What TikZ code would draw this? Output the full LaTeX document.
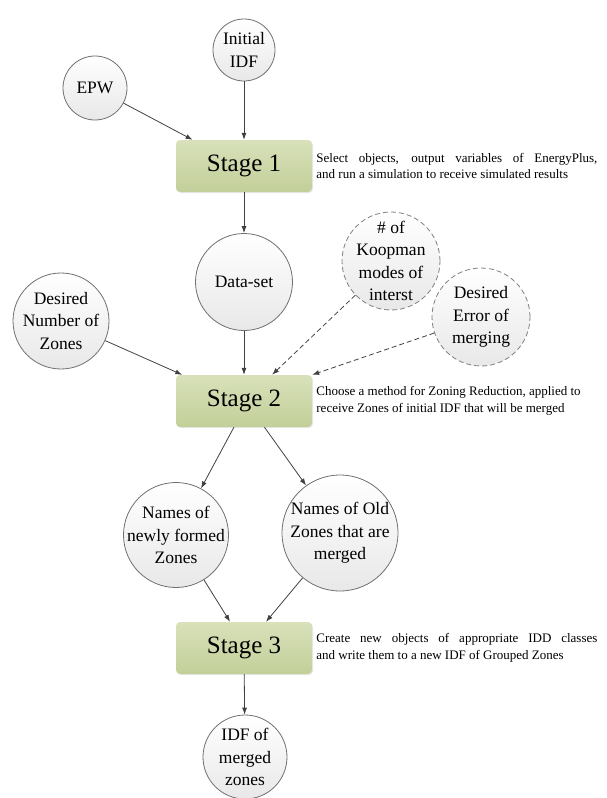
\documentclass[tikz,border=0pt]{standalone}
\usepackage{fontspec}
\setmainfont{Liberation Serif}
\usetikzlibrary{positioning,arrows.meta,shadows}
\definecolor{stagetop}{HTML}{D8E1BA}
\definecolor{stagebot}{HTML}{C3CF99}
\definecolor{ringgray}{HTML}{6F6F6F}
\definecolor{arrowgray}{HTML}{404040}

\begin{document}
\begin{tikzpicture}[x=1pt,y=-1pt,
    >={Latex[length=7pt,width=5pt]},
    bubble/.style={draw=ringgray,circle,line width=0.8pt,top color=white,bottom color=black!9,
      inner sep=-12pt,align=center,font=\fontsize{17.5}{22.5}\selectfont},
    dashbubble/.style={bubble,draw=black!50,dash pattern=on 5pt off 3pt},
    stagebox/.style={rectangle,rounded corners=4pt,top color=stagetop,bottom color=stagebot,
      minimum width=136pt,minimum height=52pt,font=\fontsize{25}{30}\selectfont,
      drop shadow={opacity=0.18,shadow xshift=1pt,shadow yshift=-1pt}},
    note/.style={align=left,inner sep=0,font=\fontsize{13}{16.5}\selectfont},
    flow/.style={->,draw=arrowgray,line width=0.8pt},
    dflow/.style={flow,dash pattern=on 5pt off 3pt}]
    \useasboundingbox (0,0) rectangle (606,798);

    \node[bubble,minimum size=62pt](ini) at (244, 50) {Initial\\IDF};
    \node[bubble,minimum size=64pt](epw) at (95, 88) {EPW};
    \node[stagebox](s1) at (244, 166) {Stage 1};
    \node[note,right=4pt of s1](n1) {\makebox[281pt][s]{Select objects, output variables of EnergyPlus,}\\and run a simulation to receive simulated results};

    \node[bubble,minimum size=97pt](ds) at (244, 282) {Data-set};
    \node[bubble,minimum size=96pt](dnz) at (61, 321) {Desired\\Number of\\Zones};
    \node[dashbubble,minimum size=98pt](koop) at (391, 261) {\# of\\Koopman\\modes of\\interst};
    \node[dashbubble,minimum size=98pt](derr) at (481, 317) {Desired\\Error of\\merging};
    \node[stagebox](s2) at (244, 401) {Stage 2};
    \node[note,right=4pt of s2](n2) {Choose a method for Zoning Reduction, applied to\\receive Zones of initial IDF that will be merged};

    \node[bubble,minimum size=105pt](nf) at (176, 535) {Names of\\newly formed\\Zones};
    \node[bubble,minimum size=116pt](no) at (340, 533) {Names of Old\\Zones that are\\merged};
    \node[stagebox](s3) at (244, 648) {Stage 3};
    \node[note,right=4pt of s3](n3) {\makebox[281pt][s]{Create new objects of appropriate IDD classes}\\and write them to a new IDF of Grouped Zones};
    \node[bubble,minimum size=84pt](idf) at (245, 757) {IDF of\\merged\\zones};

    \draw[flow] (ini) -- (s1);
    \draw[flow] (epw) -- (s1.153);
    \draw[flow] (s1) -- (ds);

    \draw[flow] (ds) -- (s2);
    \draw[flow] (dnz) -- (s2.157);
    \draw[dflow] (koop) -- (s2.43);
    \draw[dflow] (derr) -- (s2.north east);

    \draw[flow] (s2.249) -- (nf);
    \draw[flow] (s2.308) -- (no);
    \draw[flow] (nf) -- (s3.118);
    \draw[flow] (no) -- (s3.50);
    \draw[flow] (s3) -- (idf);
  \end{tikzpicture}
\end{document}
